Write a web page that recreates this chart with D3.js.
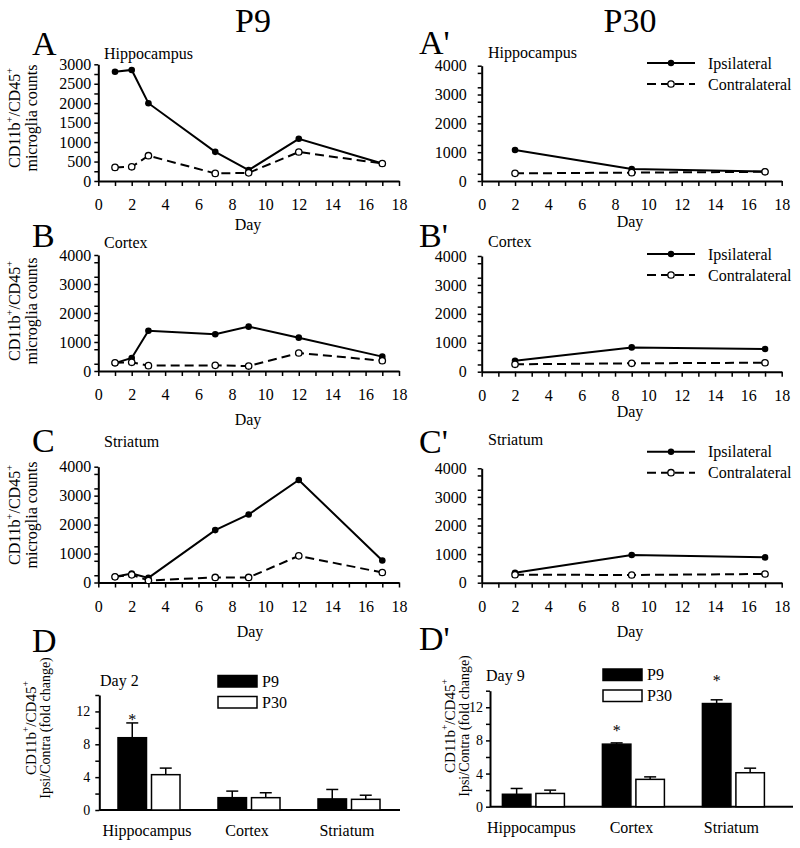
<!DOCTYPE html>
<html><head><meta charset="utf-8">
<script src="https://cdn.jsdelivr.net/npm/d3@7"></script>
<style>
body{margin:0;background:#fff}
svg{display:block}
svg text{font-family:'Liberation Serif','Times New Roman','DejaVu Serif','Noto Serif',serif !important;fill:#000}
</style>
</head><body><svg id="c" width="800" height="848" style="font-family:'Liberation Serif','Times New Roman','DejaVu Serif',serif"></svg>
<script>
// ---------- data ----------
const daysP9 = [1, 2, 3, 7, 9, 12, 17];
const daysP30 = [2, 9, 17];

const hipP9Ipsi   = [2810, 2855, 2000, 750, 280, 1085, 450];
const hipP9Contra = [350, 365, 650, 195, 210, 745, 450];
const hipP30Ipsi   = [1075, 415, 330];
const hipP30Contra = [265, 290, 320];

const ctxP9Ipsi   = [270, 450, 1390, 1265, 1530, 1150, 495];
const ctxP9Contra = [285, 300, 185, 195, 170, 620, 355];
const ctxP30Ipsi   = [380, 840, 785];
const ctxP30Contra = [255, 290, 310];

const strP9Ipsi   = [195, 310, 160, 1810, 2350, 3540, 760];
const strP9Contra = [195, 265, 70, 175, 175, 920, 345];
const strP30Ipsi   = [350, 970, 885];
const strP30Contra = [280, 270, 305];

const xTickLabels = [0, 2, 4, 6, 8, 10, 12, 14, 16, 18];
const yTicks3000 = [0, 500, 1000, 1500, 2000, 2500, 3000];
const yTicks4000 = [0, 1000, 2000, 3000, 4000];

const regions = ["Hippocampus", "Cortex", "Striatum"];
const groups = ["P9", "P30"];
const day2P9 = [8.8, 1.5, 1.35];
const day2P9Err = [1.8, 0.8, 1.15];
const day2P30 = [4.3, 1.5, 1.3];
const day2P30Err = [0.8, 0.6, 0.5];
const day9P9 = [1.5, 7.55, 12.45];
const day9P9Err = [0.7, 0.15, 0.45];
const day9P30 = [1.6, 3.3, 4.1];
const day9P30Err = [0.4, 0.3, 0.55];
const barTicks = [0, 4, 8, 12];
// significance marks (asterisk level, in fold-change units), null = none
const day2Star = [11.2, null, null];
const day9Star = [null, 9.4, 15.4];

// ---------- drawing ----------
const svg = d3.select("#c");
const FONT = 16;
const FF = "'Liberation Serif','Times New Roman','DejaVu Serif',serif";
const fmt = d => String(d);

function styleAxis(g) {
  g.attr("font-family", FF);
  g.select(".domain").attr("stroke", "#000").attr("stroke-width", 2);
  g.selectAll(".tick line").attr("stroke", "#000").attr("stroke-width", 1.5);
  g.selectAll(".tick text").attr("font-size", FONT).attr("font-family", FF);
}

function cdLabel(cy, line1x, line2x, line2, fs1, fs2) {
  const g = svg.append("g");
  const t1 = g.append("text").attr("transform", `translate(${line1x},${cy}) rotate(-90)`)
    .attr("text-anchor", "middle").attr("font-size", fs1);
  t1.append("tspan").text("CD11b");
  t1.append("tspan").attr("font-size", fs1 * 0.65).attr("dy", -fs1 * 0.45).text("+");
  t1.append("tspan").attr("dy", fs1 * 0.45).text("/CD45");
  t1.append("tspan").attr("font-size", fs1 * 0.65).attr("dy", -fs1 * 0.45).text("+");
  g.append("text").attr("transform", `translate(${line2x},${cy}) rotate(-90)`)
    .attr("text-anchor", "middle").attr("font-size", fs2).text(line2);
}

function minorStyle(g) {
  g.select(".domain").remove();
  g.selectAll("line").attr("stroke", "#000").attr("stroke-width", 1.5);
}

function linePanel(o) {
  const x = d3.scaleLinear().domain([0, 18]).range([o.x0, o.x1]);
  const y = d3.scaleLinear().domain([0, o.ymax]).range([o.yb, o.yt]);
  svg.append("g").attr("transform", `translate(0,${o.yb})`)
    .call(d3.axisBottom(x).tickValues(d3.range(1, 18, 2)).tickSize(5).tickFormat("").tickSizeOuter(0))
    .call(minorStyle);
  svg.append("g").attr("transform", `translate(${o.x0},0)`)
    .call(d3.axisLeft(y).tickValues(d3.range(250, o.ymax, 500)).tickSize(4).tickFormat("").tickSizeOuter(0))
    .call(minorStyle);
  svg.append("g").attr("transform", `translate(0,${o.yb})`)
    .call(d3.axisBottom(x).tickValues(xTickLabels).tickFormat(fmt).tickSize(5).tickPadding(13).tickSizeOuter(0))
    .call(styleAxis);
  svg.append("g").attr("transform", `translate(${o.x0},0)`)
    .call(d3.axisLeft(y).tickValues(o.yTicks).tickFormat(fmt).tickSize(4).tickPadding(o.ypad).tickSizeOuter(0))
    .call(styleAxis);

  const line = d3.line().x(d => x(d[0])).y(d => y(d[1]));
  const ip = o.days.map((d, i) => [d, o.ipsi[i]]);
  const co = o.days.map((d, i) => [d, o.contra[i]]);
  svg.append("path").datum(ip).attr("d", line).attr("fill", "none").attr("stroke", "#000").attr("stroke-width", 2);
  svg.selectAll(null).data(ip).enter().append("circle")
    .attr("cx", d => x(d[0])).attr("cy", d => y(d[1])).attr("r", 3.3).attr("fill", "#000");
  svg.append("path").datum(co).attr("d", line).attr("fill", "none").attr("stroke", "#000").attr("stroke-width", 2)
    .attr("stroke-dasharray", "9,5");
  svg.selectAll(null).data(co).enter().append("circle")
    .attr("cx", d => x(d[0])).attr("cy", d => y(d[1])).attr("r", 3.2).attr("fill", "#fff")
    .attr("stroke", "#000").attr("stroke-width", 1.3);

  svg.append("text").attr("x", o.dayX).attr("y", o.dayY).attr("text-anchor", "middle")
    .attr("font-size", FONT).text("Day");
  svg.append("text").attr("x", o.letterX).attr("y", o.letterY).attr("font-size", 34).text(o.letter);
  svg.append("text").attr("x", o.regX).attr("y", o.regY).attr("font-size", FONT).text(o.region);

  if (o.legendY !== undefined) {
    const lx0 = 647, lx1 = 695, lm = 671, tx = 708;
    [["Ipsilateral", false], ["Contralateral", true]].forEach(([name, dashed], i) => {
      const ly = o.legendY + i * 21;
      svg.append("line").attr("x1", lx0).attr("x2", lx1).attr("y1", ly).attr("y2", ly)
        .attr("stroke", "#000").attr("stroke-width", 2).attr("stroke-dasharray", dashed ? "9,5" : null);
      svg.append("circle").attr("cx", lm).attr("cy", ly).attr("r", 3.2)
        .attr("fill", dashed ? "#fff" : "#000").attr("stroke", "#000").attr("stroke-width", dashed ? 1.3 : 0);
      svg.append("text").attr("x", tx).attr("y", ly + 5.5).attr("font-size", FONT).text(name);
    });
  }
  if (o.ylab) cdLabel(o.ylabY, 20, 37, "microglia counts", FONT, FONT);
}

svg.append("text").attr("x", 253).attr("y", 32).attr("text-anchor", "middle").attr("font-size", 34).text("P9");
svg.append("text").attr("x", 630).attr("y", 32).attr("text-anchor", "middle").attr("font-size", 34).text("P30");

const L = {x0: 98.3, x1: 399, ypad: 3};
const R = {x0: 481.7, x1: 781.7, ypad: 11};

linePanel(Object.assign({}, L, {yb: 181, yt: 64.3, ymax: 3000, yTicks: yTicks3000, days: daysP9,
  ipsi: hipP9Ipsi, contra: hipP9Contra, dayX: 248, dayY: 230, letter: "A", letterX: 32, letterY: 55,
  region: "Hippocampus", regX: 104, regY: 59, ylab: true, ylabY: 118}));
linePanel(Object.assign({}, R, {yb: 181, yt: 65.7, ymax: 4000, yTicks: yTicks4000, days: daysP30,
  ipsi: hipP30Ipsi, contra: hipP30Contra, dayX: 630, dayY: 227, letter: "A'", letterX: 419, letterY: 54,
  region: "Hippocampus", regX: 488, regY: 58, legendY: 63}));

linePanel(Object.assign({}, L, {yb: 371, yt: 255, ymax: 4000, yTicks: yTicks4000, days: daysP9,
  ipsi: ctxP9Ipsi, contra: ctxP9Contra, dayX: 248, dayY: 425, letter: "B", letterX: 32, letterY: 246.5,
  region: "Cortex", regX: 104, regY: 248, ylab: true, ylabY: 311}));
linePanel(Object.assign({}, R, {yb: 371.7, yt: 256, ymax: 4000, yTicks: yTicks4000, days: daysP30,
  ipsi: ctxP30Ipsi, contra: ctxP30Contra, dayX: 630, dayY: 417, letter: "B'", letterX: 419, letterY: 247,
  region: "Cortex", regX: 488, regY: 246.5, legendY: 254}));

linePanel(Object.assign({}, L, {yb: 582.5, yt: 466.7, ymax: 4000, yTicks: yTicks4000, days: daysP9,
  ipsi: strP9Ipsi, contra: strP9Contra, dayX: 250, dayY: 637, letter: "C", letterX: 32, letterY: 451.5,
  region: "Striatum", regX: 104, regY: 446.5, ylab: true, ylabY: 515}));
linePanel(Object.assign({}, R, {yb: 582.7, yt: 468.3, ymax: 4000, yTicks: yTicks4000, days: daysP30,
  ipsi: strP30Ipsi, contra: strP30Contra, dayX: 630, dayY: 637, letter: "C'", letterX: 419, letterY: 453,
  region: "Striatum", regX: 488, regY: 445, legendY: 451.7}));

function barPanel(o) {
  const x = d3.scaleBand().domain(regions).range([o.bx0, o.bx1]);
  const y = d3.scaleLinear().domain([0, 14]).range([o.yb, o.yt]);
  svg.append("g").attr("transform", `translate(${o.ax},0)`)
    .call(d3.axisLeft(y).tickValues([2, 6, 10, 14]).tickSize(4).tickFormat("").tickSizeOuter(0))
    .call(minorStyle);
  svg.append("g").attr("transform", `translate(${o.ax},0)`)
    .call(d3.axisLeft(y).tickValues(barTicks).tickFormat(fmt).tickSize(4).tickPadding(o.ypad).tickSizeOuter(0))
    .call(styleAxis).call(g => g.selectAll(".tick text").attr("font-size", 14));
  svg.append("line").attr("x1", o.ax).attr("x2", o.axEnd).attr("y1", o.yb).attr("y2", o.yb)
    .attr("stroke", "#000").attr("stroke-width", 2);

  const bw = 28.5, gap = 2.5;
  const series = [[o.p9, o.p9e, "#000"], [o.p30, o.p30e, "#fff"]];
  series.forEach(([vals, errs, fill], s) => {
    regions.forEach((r, i) => {
      const cx = x(r) + x.bandwidth() / 2;
      const bx = s === 0 ? cx - gap - bw : cx + gap;
      const mid = bx + bw / 2;
      const top = y(vals[i] + errs[i]);
      svg.append("line").attr("x1", mid).attr("x2", mid).attr("y1", y(vals[i])).attr("y2", top)
        .attr("stroke", "#000").attr("stroke-width", 1.5);
      svg.append("line").attr("x1", mid - 6).attr("x2", mid + 6).attr("y1", top).attr("y2", top)
        .attr("stroke", "#000").attr("stroke-width", 1.5);
      svg.append("rect").attr("x", bx).attr("width", bw).attr("y", y(vals[i])).attr("height", o.yb - y(vals[i]))
        .attr("fill", fill).attr("stroke", "#000").attr("stroke-width", 1.5);
      if (s === 0 && o.star[i] !== null) {
        svg.append("text").attr("x", mid).attr("y", y(o.star[i]) + 7).attr("text-anchor", "middle")
          .attr("font-size", 16).attr("fill", "#000").text("*");
      }
    });
  });
  regions.forEach(r => {
    svg.append("text").attr("x", x(r) + x.bandwidth() / 2 - 2).attr("y", o.yb + 26).attr("text-anchor", "middle")
      .attr("font-size", FONT).text(r);
  });
  groups.forEach((gname, i) => {
    const ry = o.legY + i * 21;
    svg.append("rect").attr("x", o.legX).attr("y", ry).attr("width", 39).attr("height", 11.5)
      .attr("fill", i === 0 ? "#000" : "#fff").attr("stroke", "#000").attr("stroke-width", 1.5);
    svg.append("text").attr("x", o.legX + 44).attr("y", ry + 11).attr("font-size", FONT).text(gname);
  });
  svg.append("text").attr("x", o.dayX).attr("y", o.dayY).attr("font-size", FONT).text(o.dayText);
  svg.append("text").attr("x", o.letterX).attr("y", o.letterY).attr("font-size", 34).text(o.letter);
  cdLabel(o.lcy, o.l1, o.l2, "Ipsi/Contra (fold change)", 15, 14);
}

barPanel({bx0: 99, bx1: 399, ax: 99.3, axEnd: 400, yb: 810, yt: 695, ypad: 5,
  p9: day2P9, p9e: day2P9Err, p30: day2P30, p30e: day2P30Err, star: day2Star,
  legX: 218, legY: 675.5, dayX: 100, dayY: 686, dayText: "Day 2", letter: "D", letterX: 32, letterY: 651.5,
  l1: 36, l2: 50, lcy: 728});
barPanel({bx0: 483.4, bx1: 783.4, ax: 490, axEnd: 793, yb: 806.7, yt: 690.7, ypad: 3,
  p9: day9P9, p9e: day9P9Err, p30: day9P30, p30e: day9P30Err, star: day9Star,
  legX: 603, legY: 669, dayX: 486, dayY: 681, dayText: "Day 9", letter: "D'", letterX: 419, letterY: 650,
  l1: 455, l2: 469, lcy: 726});
</script>
</body></html>
